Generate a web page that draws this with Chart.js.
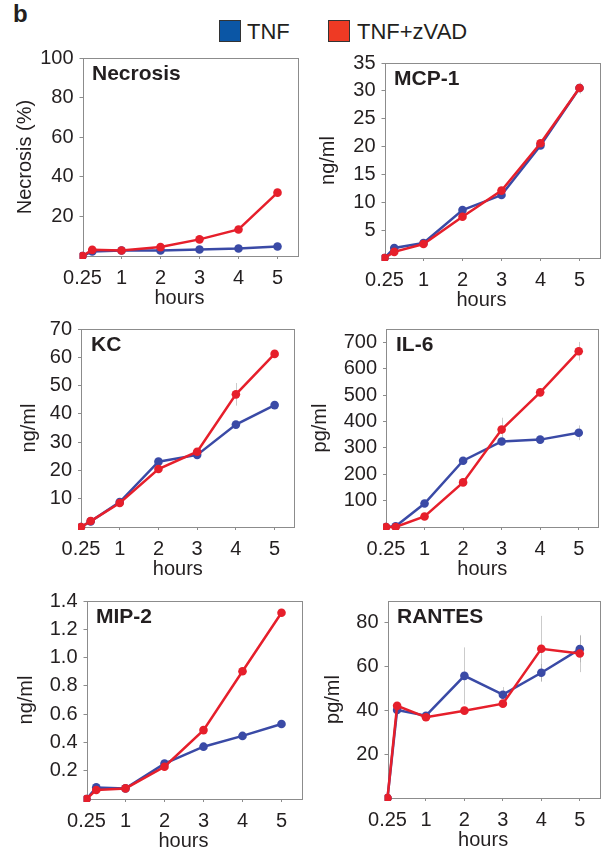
<!DOCTYPE html>
<html>
<head>
<meta charset="utf-8">
<script src="https://cdn.jsdelivr.net/npm/chart.js@4.4.1/dist/chart.umd.min.js"></script>
<style>
  body { margin: 0; background: #fff; font-family: "Liberation Sans", Arial, sans-serif; color: #231f20; }
  #page { position: relative; width: 605px; height: 851px; overflow: hidden; }
  .panel { position: absolute; }
  .ptitle { position: absolute; font-weight: bold; font-size: 21px; line-height: 1; white-space: nowrap; }
  .xtitle { position: absolute; font-size: 20px; line-height: 1; transform: translateX(-50%); white-space: nowrap; }
  #fig-b { position: absolute; left: 13px; top: 2px; font-weight: bold; font-size: 24px; line-height: 1; }
  .leg-box { position: absolute; width: 22px; height: 22px; border: 1px solid #333; box-sizing: border-box; }
  .leg-text { position: absolute; font-size: 22px; line-height: 1; white-space: nowrap; }
</style>
</head>
<body>
<div id="page">
  <div id="fig-b">b</div>
  <div class="leg-box" style="left:219px;top:20px;background:#0b56a5"></div>
  <div class="leg-text" style="left:247px;top:21px">TNF</div>
  <div class="leg-box" style="left:328px;top:20px;background:#ee3a24"></div>
  <div class="leg-text" style="left:357px;top:21px">TNF+zVAD</div>
</div>
<script>
// time points (hours) - first point is the untreated origin
const hours = [0, 0.25, 1, 2, 3, 4, 5];
const xTickValues = [0, 1, 2, 3, 4, 5];
const xTickLabels = ['0.25', '1', '2', '3', '4', '5'];
const seriesNames = ['TNF', 'TNF+zVAD'];

// Necrosis (%)
const necrosisTnf  = [0, 2.3, 2.8, 2.8, 3.3, 3.8, 4.8];
const necrosisZvad = [0, 3.1, 2.8, 4.5, 8.4, 13.4, 32];
const necrosisTicks = [20, 40, 60, 80, 100];

// MCP-1 (ng/ml)
const mcp1Tnf  = [0, 1.8, 2.7, 8.6, 11.3, 20.2, 30.5];
const mcp1Zvad = [0, 1.1, 2.5, 7.4, 12.1, 20.6, 30.5];
const mcp1ZvadErr = [0, 0, 0, 0, 0, 0, 1];
const mcp1Ticks = [5, 10, 15, 20, 25, 30, 35];

// KC (ng/ml)
const kcTnf  = [0, 2.0, 8.8, 23.1, 25.5, 36.2, 43.1];
const kcZvad = [0, 2.1, 8.5, 20.5, 26.6, 46.9, 61.2];
const kcZvadErr = [0, 0, 0, 0, 0, 4, 0];
const kcTicks = [10, 20, 30, 40, 50, 60, 70];

// IL-6 (pg/ml)
const il6Tnf  = [0, 3, 89, 251, 324, 331, 357];
const il6Zvad = [0, 0, 40, 169, 369, 510, 666];
const il6TnfErr  = [0, 0, 15, 0, 0, 0, 28];
const il6ZvadErr = [0, 0, 0, 0, 45, 15, 35];
const il6Ticks = [100, 200, 300, 400, 500, 600, 700];

// MIP-2 (ng/ml)
const mip2Tnf  = [0, 0.082, 0.075, 0.25, 0.37, 0.446, 0.53];
const mip2Zvad = [0, 0.064, 0.075, 0.228, 0.487, 0.903, 1.317];
const mip2Ticks = [0.2, 0.4, 0.6, 0.8, 1.0, 1.2, 1.4];

// RANTES (pg/ml)
const rantesTnf  = [0, 40.2, 37.6, 55.8, 47.2, 57.2, 68];
const rantesZvad = [0, 42.1, 36.9, 39.9, 43.1, 68.2, 66];
const rantesTnfErr  = [0, 0, 0, 13, 3.5, 4, 6];
const rantesZvadErr = [0, 0, 0, 0, 0, 15, 8.5];
const rantesTicks = [20, 40, 60, 80];

const BLUE = '#3a4aa6';
const RED = '#e61f2b';
const TEXT = '#231f20';
const FRAME = '#8c8c8c';

Chart.defaults.font.family = '"Liberation Sans", Arial, sans-serif';

// panel boxes = target plot-area edges on the page, titleX = centre of the y title
const panels = [
  { name: 'Necrosis', yTitle: 'Necrosis (%)', tnf: necrosisTnf, zvad: necrosisZvad, ticks: necrosisTicks, yMax: 100,
    box: { L: 82, T: 54, R: 296, B: 256 }, titleX: 24.5 },
  { name: 'MCP-1', yTitle: 'ng/ml', tnf: mcp1Tnf, zvad: mcp1Zvad, zvadErr: mcp1ZvadErr, ticks: mcp1Ticks, yMax: 35,
    box: { L: 384, T: 59, R: 598, B: 258 }, titleX: 327.5 },
  { name: 'KC', yTitle: 'ng/ml', tnf: kcTnf, zvad: kcZvad, zvadErr: kcZvadErr, ticks: kcTicks, yMax: 70,
    box: { L: 81, T: 325, R: 294, B: 527 }, titleX: 29 },
  { name: 'IL-6', yTitle: 'pg/ml', tnf: il6Tnf, zvad: il6Zvad, tnfErr: il6TnfErr, zvadErr: il6ZvadErr, ticks: il6Ticks, yMax: 750,
    box: { L: 386, T: 325, R: 598, B: 527 }, titleX: 320 },
  { name: 'MIP-2', yTitle: 'ng/ml', tnf: mip2Tnf, zvad: mip2Zvad, ticks: mip2Ticks, yMax: 1.4, decimals: 1,
    box: { L: 86, T: 597, R: 300, B: 799 }, titleX: 25.5 },
  { name: 'RANTES', yTitle: 'pg/ml', tnf: rantesTnf, zvad: rantesZvad, tnfErr: rantesTnfErr, zvadErr: rantesZvadErr, ticks: rantesTicks, yMax: 90,
    box: { L: 387, T: 597, R: 598, B: 798 }, titleX: 332.5 }
];

// frame round the plot area
const framePlugin = {
  id: 'frame',
  beforeDatasetsDraw(chart) {
    const a = chart.chartArea, c = chart.ctx;
    c.save();
    c.strokeStyle = FRAME;
    c.lineWidth = 1;
    c.strokeRect(Math.round(a.left) + 0.5, Math.round(a.top) + 0.5, Math.round(a.right - a.left), Math.round(a.bottom - a.top));
    c.restore();
  }
};

// faint SD whiskers
const errorPlugin = {
  id: 'errors',
  beforeDatasetsDraw(chart) {
    const c = chart.ctx, xs = chart.scales.x, ys = chart.scales.y;
    c.save();
    c.strokeStyle = 'rgba(160,160,160,0.55)';
    c.lineWidth = 1;
    chart.data.datasets.forEach(ds => {
      if (!ds.errors) return;
      ds.data.forEach((pt, i) => {
        const e = ds.errors[i];
        if (!e) return;
        const x = Math.round(xs.getPixelForValue(pt.x)) + 0.5;
        c.beginPath();
        c.moveTo(x, ys.getPixelForValue(pt.y - e));
        c.lineTo(x, ys.getPixelForValue(pt.y + e));
        c.stroke();
      });
    });
    c.restore();
  }
};

function series(label, values, color, errors, order) {
  return {
    label: label,
    data: hours.map((h, i) => ({ x: h, y: values[i] })),
    errors: errors,
    borderColor: color,
    backgroundColor: color,
    borderWidth: 2.5,
    pointRadius: 4.3,
    pointHoverRadius: 4.3,
    pointBorderWidth: 0,
    tension: 0,
    clip: { left: 3, bottom: 3, top: false, right: false },
    order: order
  };
}

const page = document.getElementById('page');

panels.forEach(p => {
  const b = p.box;
  const padTop = 14, padRight = 10, xH = 34;
  const left = p.titleX - 12;
  const top = b.T - padTop;
  const yW = b.L - left;
  const w = Math.round(b.R - left + padRight);
  const h = Math.round(b.B - top + xH);

  const wrap = document.createElement('div');
  wrap.className = 'panel';
  wrap.style.left = left + 'px';
  wrap.style.top = top + 'px';
  const canvas = document.createElement('canvas');
  canvas.width = w;
  canvas.height = h;
  canvas.style.width = w + 'px';
  canvas.style.height = h + 'px';
  wrap.appendChild(canvas);
  page.appendChild(wrap);

  const title = document.createElement('div');
  title.className = 'ptitle';
  title.textContent = p.name;
  title.style.left = (b.L + 10) + 'px';
  title.style.top = (b.T + 8) + 'px';
  page.appendChild(title);

  const tickFont = { size: 20 };
  const chart = new Chart(canvas, {
    type: 'line',
    data: {
      datasets: [
        series(seriesNames[0], p.tnf, BLUE, p.tnfErr, 1),
        series(seriesNames[1], p.zvad, RED, p.zvadErr, 0)
      ]
    },
    options: {
      responsive: false,
      animation: false,
      layout: { padding: { top: padTop, right: padRight, bottom: 0, left: 0 }, autoPadding: false },
      plugins: { legend: { display: false }, tooltip: { enabled: false } },
      scales: {
        x: {
          type: 'linear',
          min: 0,
          max: 5.5,
          afterBuildTicks: s => { s.ticks = xTickValues.map(v => ({ value: v })); },
          afterFit: s => { s.height = xH; },
          border: { display: false },
          grid: { drawOnChartArea: false, drawTicks: true, tickLength: 3, color: FRAME },
          ticks: {
            autoSkip: false, maxRotation: 0, padding: 7, color: TEXT, font: tickFont,
            callback: v => xTickLabels[xTickValues.indexOf(v)]
          }
        },
        y: {
          min: 0,
          max: p.yMax,
          afterBuildTicks: s => { s.ticks = p.ticks.map(v => ({ value: v })); },
          afterFit: s => { s.width = yW; },
          border: { display: false },
          grid: { drawOnChartArea: false, drawTicks: true, tickLength: 3, color: FRAME },
          ticks: {
            padding: 6, color: TEXT, font: tickFont,
            callback: v => p.decimals ? v.toFixed(p.decimals) : String(v)
          },
          title: { display: true, text: p.yTitle, color: TEXT, font: { size: 20, lineHeight: 1.2 }, padding: 0 }
        }
      }
    },
    plugins: [framePlugin, errorPlugin]
  });

  // "hours" centred under the 0..5 span of the axis
  const xs = chart.scales.x;
  const mid = left + (xs.getPixelForValue(0) + xs.getPixelForValue(5)) / 2;
  const xt = document.createElement('div');
  xt.className = 'xtitle';
  xt.textContent = 'hours';
  xt.style.left = mid + 'px';
  xt.style.top = (b.B + 31) + 'px';
  page.appendChild(xt);
});
</script>
</body>
</html>
